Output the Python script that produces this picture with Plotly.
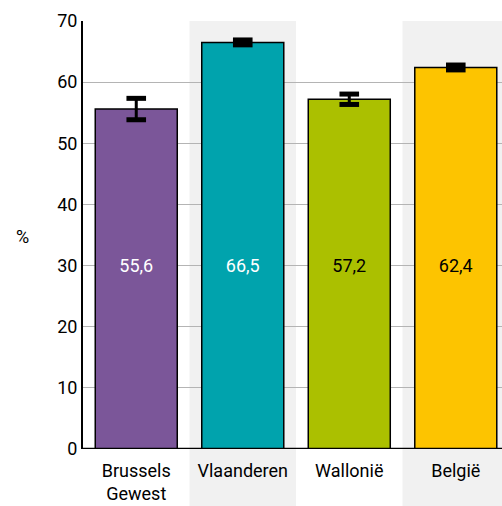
import plotly.graph_objects as go

categories = ["Brussels<br>Gewest", "Vlaanderen", "Wallonië", "België"]
values = [55.6, 66.5, 57.2, 62.4]
errors = [1.75, 0.4, 0.85, 0.4]
labels = ["55,6", "66,5", "57,2", "62,4"]
colors = ["#7B5699", "#00A3AD", "#ABC000", "#FDC400"]
label_colors = ["white", "white", "black", "black"]
tick_vals = [0, 10, 20, 30, 40, 50, 60, 70]

FONT = "Roboto, sans-serif"

fig = go.Figure()

fig.add_trace(go.Bar(
    x=categories, y=values,
    marker=dict(color=colors, line=dict(color="black", width=1.5)),
    width=0.77,
    error_y=dict(type="data", array=errors, visible=True,
                 color="black", thickness=3, width=7),
    hoverinfo="skip", showlegend=False,
))

# thick caps of error bars
cap_x = categories + categories
cap_y = [v + e for v, e in zip(values, errors)] + [v - e for v, e in zip(values, errors)]
fig.add_trace(go.Scatter(
    x=cap_x, y=cap_y, mode="markers",
    marker=dict(symbol="line-ew-open", size=14, color="black",
                line=dict(color="black", width=5)),
    hoverinfo="skip", showlegend=False,
))

fig.add_trace(go.Scatter(
    x=categories, y=[29.7] * len(categories), mode="text",
    text=labels, textposition="middle center",
    textfont=dict(family=FONT, size=18, color=label_colors),
    hoverinfo="skip", showlegend=False,
))

shapes = []
for i in (1, 3):
    shapes.append(dict(type="rect", xref="x", yref="paper",
                       x0=i - 0.5, x1=i + 0.5, y0=-0.2, y1=1,
                       fillcolor="#F1F1F1", line=dict(width=0), layer="below"))

fig.update_layout(
    width=502, height=506,
    margin=dict(l=83, r=0, t=21, b=57, autoexpand=False),
    paper_bgcolor="white", plot_bgcolor="white",
    font=dict(family=FONT, size=18, color="black"),
    shapes=shapes,
    bargap=0.23,
    xaxis=dict(range=[-0.5, 3.434], showgrid=False, zeroline=False,
               showline=False, ticks="", tickfont=dict(size=18),
               ticklabelstandoff=9, automargin=False),
    yaxis=dict(range=[0, 70], tickvals=tick_vals, showgrid=True,
               gridcolor="#B4B4B4", gridwidth=1, zeroline=False,
               showline=True, linecolor="black", linewidth=2,
               ticks="", tickfont=dict(size=18), automargin=False),
    annotations=[dict(text="%", xref="paper", yref="y", x=-0.145, y=34.7,
                      showarrow=False, font=dict(size=18), xanchor="center")],
)
# x axis baseline
fig.add_shape(type="line", xref="paper", yref="y", x0=0, x1=1, y0=0, y1=0,
              line=dict(color="black", width=2.5), layer="above")

fig.write_html("out.html",
               config={"displayModeBar": False, "staticPlot": True},
               post_script="document.body.style.margin='0';document.body.style.overflow='hidden';")
